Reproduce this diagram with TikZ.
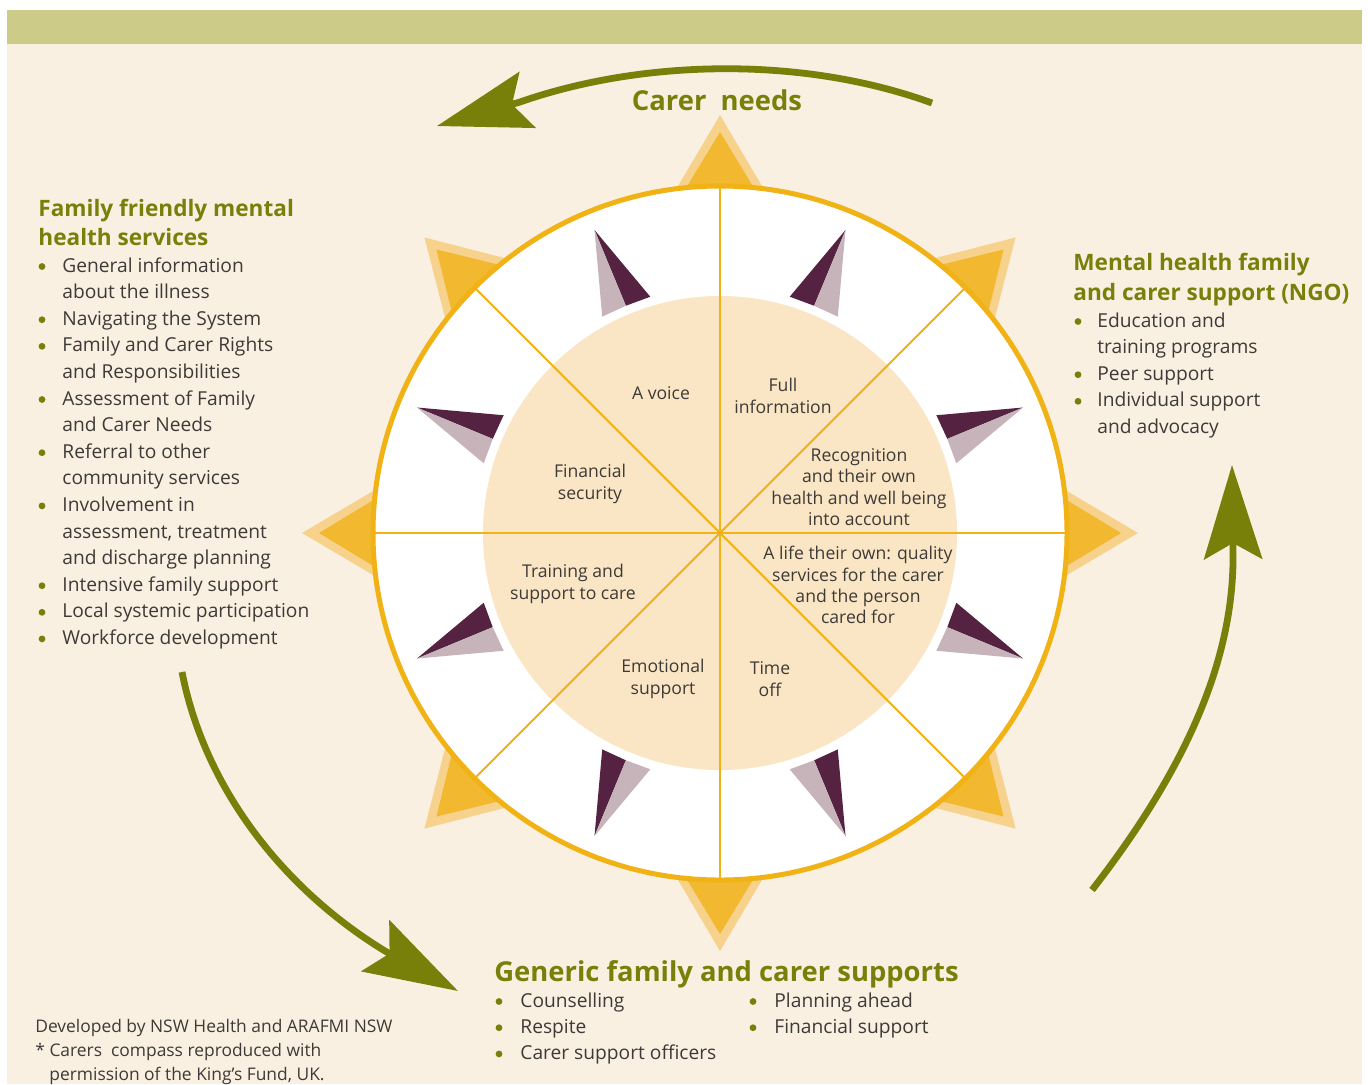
\documentclass[tikz,border=0pt]{standalone}
\usepackage{fontspec}
\setmainfont{Open Sans}
\usetikzlibrary{arrows.meta, bending, positioning, calc}

\definecolor{band}{RGB}{204,204,136}
\definecolor{cream}{RGB}{250,240,225}
\definecolor{olivegreen}{RGB}{120,128,10}
\definecolor{ring}{RGB}{240,178,20}
\definecolor{core}{RGB}{250,230,196}
\definecolor{pointlight}{RGB}{246,210,140}
\definecolor{pointdark}{RGB}{241,184,48}
\definecolor{needledark}{RGB}{85,35,65}
\definecolor{needlelight}{RGB}{198,180,186}
\definecolor{txt}{RGB}{62,58,55}

\tikzset{
  head/.style={font=\bfseries\fontsize{11.3}{14.5}\selectfont, text=olivegreen, inner sep=0pt, anchor=base west},
  bighead/.style={font=\bfseries\fontsize{13.7}{16}\selectfont, text=olivegreen, inner sep=0pt},
  item/.style={font=\fontsize{9.6}{13.3}\selectfont, text=txt, inner sep=0pt, anchor=base west},
  dot/.style={circle, fill=olivegreen, inner sep=0pt, minimum size=3.4pt},
  sector/.style={font=\fontsize{8.8}{10.65}\selectfont, text=txt, align=center, inner sep=0pt},
  note/.style={font=\fontsize{8.7}{12}\selectfont, text=txt, inner sep=0pt, anchor=base west},
  arr/.style={draw=olivegreen, line width=3.4pt, -{Stealth[length=47pt, width=29pt, inset=8pt]}},
}

\begin{document}
\begin{tikzpicture}[x=0.5pt, y=0.5pt]
%%% frame
\useasboundingbox (0,0) rectangle (1368,-1084);
\fill[cream] (7,-44) rectangle (1362,-1084);
\fill[band] (7,-10) rectangle (1362,-44);

\coordinate (c) at (720,-533);

%%% compass

% star points
\foreach \a in {0,45,...,315}{
  \begin{scope}[shift={(c)}, rotate=\a]
    \fill[pointlight] (418,0) -- (330,52) -- (330,-52) -- cycle;
    \fill[pointdark] (401,0) -- (330,43) -- (330,-43) -- cycle;
  \end{scope}
}

% face
\fill[white] (c) circle[radius=347];
\fill[core] (c) circle[radius=237];

% spokes
\foreach \a in {0,45,...,135}
  \draw[ring, line width=1pt] ($(c)+(\a:347)$) -- ($(c)+(\a+180:347)$);

% rim
\draw[ring, line width=2.5pt] (c) circle[radius=347];

% needles
\foreach \a/\s in {22.5/1, 67.5/1, 112.5/-1, 157.5/-1, 202.5/-1, 247.5/-1, 292.5/1, 337.5/1}{
  \begin{scope}[shift={(c)}, rotate=\a, yscale=\s]
    \fill[needledark] (328,0) -- (245,26) -- (246,0) -- cycle;
    \fill[needlelight] (328,0) -- (246,0) -- (245,-26) -- cycle;
  \end{scope}
}

% sector labels
\node[sector] (voice) at (661,-393) {A voice};
\node[sector] (fullinfo) at (783,-396) {Full\\information};
\node[sector] (money) at (590,-484) {Financial\\security};
\node[sector] (recog) at (859,-487) {Recognition\\and their own\\health and well being\\into account};
\node[sector] (training) at (573,-584) {Training and\\support to care};
\node[sector] (life) at (858,-585) {A life their own: quality\\services for the carer\\and the person\\cared for};
\node[sector] (emotion) at (663,-679) {Emotional\\support};
\node[sector] (timeoff) at (770,-679) {Time\\off};

%%% outer texts

% carer needs
\node[bighead, anchor=base] (needs) at (717,-110) {Carer\ \ needs};

% family friendly services
\node[head] (fam1) at (38,-216) {Family friendly mental};
\node[head] (fam2) at (38,-245) {health services};
\foreach \b/\t [count=\i from 0] in {1/General information, 0/about the illness, 1/Navigating the System,
    1/Family and Carer Rights, 0/and Responsibilities, 1/Assessment of Family, 0/and Carer Needs,
    1/Referral to other, 0/community services, 1/Involvement in, 0/{assessment, treatment},
    0/and discharge planning, 1/Intensive family support, 1/Local systemic participation,
    1/Workforce development}{
  \node[item] (fl\i) at (62,-272-26.6*\i) {\t};
  \ifnum\b=1 \node[dot] (fb\i) at (42,-266.5-26.6*\i) {}; \fi
}

% NGO support
\node[head] (ngo1) at (1073,-270) {Mental health family};
\node[head] (ngo2) at (1073,-300) {and carer support (NGO)};
\foreach \b/\t [count=\i from 0] in {1/Education and, 0/training programs, 1/Peer support,
    1/Individual support, 0/and advocacy}{
  \node[item] (nl\i) at (1097,-327-26.6*\i) {\t};
  \ifnum\b=1 \node[dot] (nb\i) at (1078,-321.5-26.6*\i) {}; \fi
}

% generic supports
\node[bighead, anchor=base west] (gen) at (494,-981) {Generic family and carer supports};
\foreach \t [count=\i from 0] in {Counselling, Respite, Carer support officers}{
  \node[item] (gl\i) at (520,-1007-26.2*\i) {\t};
  \node[dot] (gb\i) at (499,-1001.5-26.2*\i) {};
}
\foreach \t [count=\i from 0] in {Planning ahead, Financial support}{
  \node[item] (hl\i) at (774,-1007-26.2*\i) {\t};
  \node[dot] (hb\i) at (753,-1001.5-26.2*\i) {};
}

% footnote
\node[note] (dev) at (35,-1032) {Developed by NSW Health and ARAFMI NSW};
\node[note] (kf1) at (35,-1056) {* Carers\ \ compass reproduced with};
\node[note] (kf2) at (49,-1080) {permission of the King’s Fund, UK.};

%%% arrows
\coordinate (needs-from) at (932,-103);
\coordinate (needs-bend) at (520,-102);
\coordinate (needs-to) at (437,-126);
\draw[arr] (needs-from) .. controls (800,-55) and (640,-60) .. (needs-bend) -- (needs-to);

\coordinate (fam-from) at (182,-672);
\coordinate (fam-bend) at (385,-951);
\coordinate (fam-to) at (458,-991);
\draw[arr] (fam-from) .. controls (205,-790) and (285,-890) .. (fam-bend) -- (fam-to);

\coordinate (ngo-from) at (1092,-890);
\coordinate (ngo-bend) at (1233,-550);
\coordinate (ngo-to) at (1232,-465);
\draw[arr] (ngo-from) .. controls (1185,-770) and (1235,-660) .. (ngo-bend) -- (ngo-to);
\end{tikzpicture}
\end{document}
